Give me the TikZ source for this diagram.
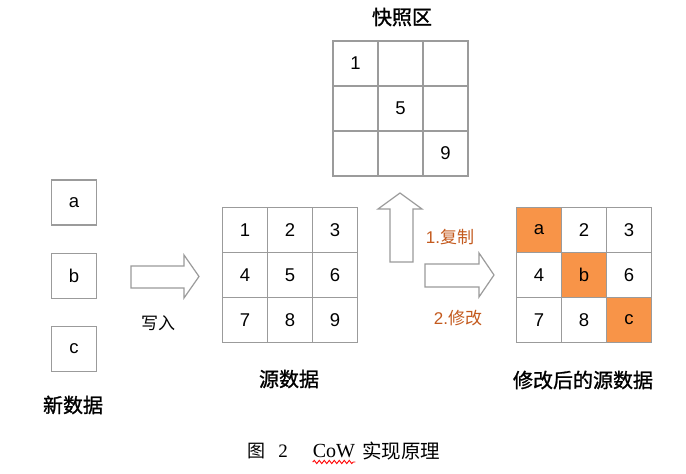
\documentclass[tikz,border=0pt]{standalone}
\usepackage{fontspec}
\setmainfont{Liberation Sans}
\newfontfamily\cjk{Noto Sans CJK SC}
\newfontfamily\cjkb[FakeBold=1.2]{Noto Sans CJK SC}
\newfontfamily\serifl{Liberation Serif}
\usetikzlibrary{decorations.pathmorphing,calc}
\definecolor{gridgray}{RGB}{155,155,155}
\definecolor{hl}{RGB}{248,148,72}
\definecolor{lbl}{RGB}{196,90,30}
\begin{document}
\begin{tikzpicture}[x=1pt,y=-1pt,
 cell/.style={draw=gridgray,line width=1.2pt,minimum size=45pt,inner sep=0pt,font=\fontsize{18.5}{18.5}\selectfont},
 hot/.style={cell,fill=hl},
 title/.style={font=\cjkb\fontsize{20}{20}\selectfont},
 lab/.style={text=lbl,font=\fontsize{17}{17}\selectfont},
 bigarrow/.style={draw=gridgray,line width=1.2pt,fill=white,line join=miter}]
\fill[white] (0,0) rectangle (686,474);
\useasboundingbox (0,0) rectangle (686,474);

% snapshot area
\node[title] (tsnap) at (402,17) {快照区};
\node[cell] (s11) at (355.5,63.5) {1};
\node[cell] (s12) at (400.5,63.5) {};
\node[cell] (s13) at (445.5,63.5) {};
\node[cell] (s21) at (355.5,108.5) {};
\node[cell] (s22) at (400.5,108.5) {5};
\node[cell] (s23) at (445.5,108.5) {};
\node[cell] (s31) at (355.5,153.5) {};
\node[cell] (s32) at (400.5,153.5) {};
\node[cell] (s33) at (445.5,153.5) {9};

% new data
\node[cell] (na) at (74,202.5) {a};
\node[cell] (nb) at (74,276) {b};
\node[cell] (nc) at (74,349) {c};
\node[title] (tnew) at (73,405) {新数据};

% write arrow
\draw[bigarrow] (131,266) -- (184,266) -- (184,255) -- (199,276.5) -- (184,298) -- (184,288) -- (131,288) -- cycle;
\node[font=\cjk\fontsize{17}{17}\selectfont] (lwrite) at (158,323) {写入};

% source grid
\node[cell] (o11) at (245,230) {1};
\node[cell] (o12) at (290,230) {2};
\node[cell] (o13) at (335,230) {3};
\node[cell] (o21) at (245,275) {4};
\node[cell] (o22) at (290,275) {5};
\node[cell] (o23) at (335,275) {6};
\node[cell] (o31) at (245,320) {7};
\node[cell] (o32) at (290,320) {8};
\node[cell] (o33) at (335,320) {9};
\node[title] (tsrc) at (289,379) {源数据};

% copy arrow (up)
\draw[bigarrow] (390,262) -- (390,209) -- (378,209) -- (400,193) -- (422,209) -- (413,209) -- (413,262) -- cycle;
\node[lab] (lcopy) at (450,237) {1.{\cjk 复制}};

% modify arrow
\draw[bigarrow] (425,264) -- (479,264) -- (479,253) -- (494,275) -- (479,297) -- (479,287) -- (425,287) -- cycle;
\node[lab] (lmod) at (458,318) {2.{\cjk 修改}};

% modified grid
\node[hot]  (m11) at (539,230) {a};
\node[cell] (m12) at (584,230) {2};
\node[cell] (m13) at (629,230) {3};
\node[cell] (m21) at (539,275) {4};
\node[hot]  (m22) at (584,275) {b};
\node[cell] (m23) at (629,275) {6};
\node[cell] (m31) at (539,320) {7};
\node[cell] (m32) at (584,320) {8};
\node[hot]  (m33) at (629,320) {c};
\node[title] (tmod) at (583,380) {修改后的源数据};

% caption
\node[font=\cjk\fontsize{18}{18}\selectfont] (cfig) at (256,451) {图};
\node[font=\serifl\fontsize{19}{19}\selectfont] (cnum) at (283,451) {2};
\node[font=\serifl\fontsize{20}{20}\selectfont,inner sep=0pt] (ccow) at (334,451) {CoW};
\node[font=\cjk\fontsize{19.5}{19.5}\selectfont] (ctxt) at (401,451) {实现原理};
\coordinate (sq1) at ($(ccow.south west)+(0,4)$);
\coordinate (sq2) at ($(ccow.south east)+(0,4)$);
\draw[red,line width=0.9pt,decorate,decoration={snake,amplitude=1.6pt,segment length=5pt}] (sq1) -- (sq2);
\end{tikzpicture}
\end{document}
